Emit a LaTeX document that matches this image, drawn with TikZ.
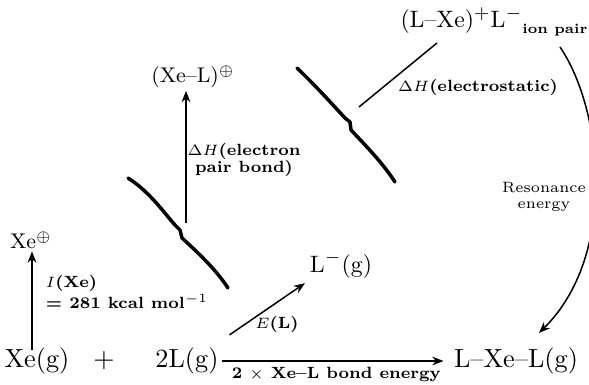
\documentclass[tikz,border=0pt]{standalone}
\usepackage{amsmath}
\usetikzlibrary{arrows.meta}
\usetikzlibrary{positioning}
\tikzset{
  chem/.style={font=\fontsize{10.5}{12}\selectfont, inner sep=1pt},
  chemsm/.style={font=\fontsize{8.5}{10}\selectfont, inner sep=1pt},
  lbl/.style={font=\fontsize{6.5}{6.5}\selectfont\bfseries, inner sep=1pt},
  arr/.style={-{Stealth[length=4.5pt,width=3.5pt]}, line width=0.6pt},
  brk/.style={line width=1.4pt, line cap=round, line join=round},
}

\begin{document}
\begin{tikzpicture}[x=0.4pt,y=-0.4pt]
\useasboundingbox (0,0) rectangle (589,385);
% species
\node[chem] (xeg) at (37,361) {Xe(g)};
\node[chem] (plus) at (104,361) {$+$};
\node[chem] (twol) at (187,361) {2L(g)};
\node[chem] (lxel) at (516,361) {L--Xe--L(g)};
\node[chemsm] (xep) at (31,240) {Xe$^{\oplus}$};
\node[chem,font=\fontsize{9.5}{11}\selectfont] (lminus) at (341,265) {L$^{-}$(g)};
\node[chemsm] (xel) at (193,77) {(Xe--L)$^{\oplus}$};
\node[chem,font=\fontsize{9.5}{11}\selectfont] (ionp) at (494,22) {(L--Xe)$^{+}$L$^{-}$\raisebox{-2.5pt}{\fontsize{5.5}{6}\selectfont\bfseries ion pair}};

% break marks
\draw[brk] (128,178) .. controls (150,192) and (165,214) .. (175,225) -- (180,230) -- (182,238) .. controls (195,250) and (215,268) .. (228,288);
\draw[brk] (297,68) .. controls (315,85) and (332,104) .. (345,118) -- (350,122) -- (351,130) .. controls (365,145) and (382,162) .. (395,182);

% free ends
\coordinate (bondbase) at (186,223);
\coordinate (esbase) at (359,107);
\coordinate (estop) at (437,43);
\coordinate (restop) at (560,47);
\coordinate (resend) at (539,333);

% ionization
\draw[arr] ([xshift=-2pt,yshift=-2pt]xeg.north) -- ([xshift=-2pt]xeg.north |- xep.south);
\node[lbl,anchor=west,align=left] (ixe) at (43,292) {$I$(Xe)\\= 281 kcal mol$^{-1}$};

% bond energy
\draw[arr,shorten >=3pt] (twol.east) -- (lxel.west)
  node[lbl,midway,below=1pt] (bondlbl) {2 $\times$ Xe--L bond energy};

% electron affinity
\draw[arr] ([shift={(8,-10)}]twol.north east) -- ([shift={(-2,2)}]lminus.south west);
\node[lbl] (el) at (277,324) {$E$(L)};

% electron pair bond
\draw[arr] (bondbase) -- (bondbase |- xel.south);
\node[lbl,align=center] (eplbl) at (244,160) {$\Delta H$(electron\\pair bond)};

% electrostatic
\draw[line width=0.6pt] (esbase) -- (estop);
\node[lbl] (eslbl) at (478,87) {$\Delta H$(electrostatic)};

% resonance
\draw[arr] (restop) .. controls (603,110) and (618,255) .. (resend);
\node[lbl,align=center,font=\fontsize{6}{6.5}\selectfont] (reslbl) at (544,197) {Resonance\\energy};
\end{tikzpicture}
\end{document}
